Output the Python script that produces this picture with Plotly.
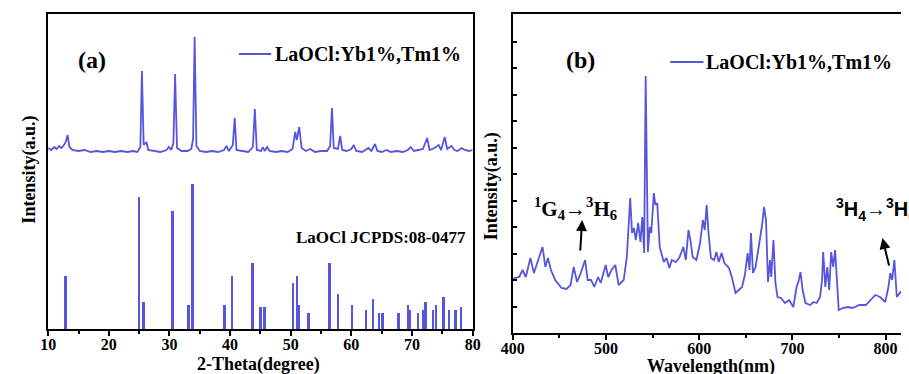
import plotly.graph_objects as go

# ---------------- data ----------------
# (a) XRD pattern of LaOCl:Yb1%,Tm1%
xrd_2theta = [10.0, 10.5, 11.0, 11.4, 11.8, 12.2, 12.6, 12.9, 13.2, 13.5, 14.0, 15.0, 16.0, 17.0, 18.0,
              19.0, 20.0, 21.0, 22.0, 23.0, 24.0, 24.7, 25.2, 25.46, 25.75, 26.2, 26.5, 27.5, 28.5, 29.5,
              29.9, 30.3, 30.65, 30.93, 31.25, 32.0, 33.0, 33.6, 33.9, 34.15, 34.45, 35.0, 36.0, 37.0,
              38.0, 39.0, 39.4, 39.8, 40.45, 40.76, 41.05, 42.0, 43.0, 43.75, 44.08, 44.4, 45.1, 45.4,
              45.7, 46.1, 46.5, 47.5, 48.5, 49.5, 50.3, 50.74, 51.0, 51.4, 51.8, 52.5, 53.2, 54.0, 55.0,
              56.0, 56.5, 56.8, 57.1, 57.8, 58.15, 58.5, 59.2, 60.0, 60.4, 60.8, 61.8, 62.8, 63.3, 63.9,
              64.3, 65.0, 65.8, 66.5, 67.5, 68.5, 69.3, 69.8, 70.3, 71.0, 71.8, 72.5, 72.9, 73.7, 74.4,
              74.8, 75.4, 75.8, 76.5, 77.0, 77.5, 78.2, 78.7, 79.4, 80.0]
xrd_intensity = [181, 179, 182, 180, 183, 181, 184, 187, 194, 182, 179, 178, 179, 177, 178,
                 177, 178, 177, 178, 177, 178, 177, 182, 258, 184, 187, 179, 178, 177, 179,
                 182, 179, 186, 255, 181, 178, 178, 180, 190, 292, 183, 178, 177, 178,
                 177, 179, 183, 178, 184, 211, 179, 178, 177, 182, 220, 179, 178, 182,
                 178, 182, 178, 177, 178, 177, 180, 197, 189, 202, 181, 178, 180, 177, 178,
                 178, 183, 221, 181, 180, 193, 179, 178, 180, 184, 178, 177, 181, 178, 185,
                 178, 177, 179, 177, 178, 177, 179, 182, 178, 179, 180, 191, 179, 181, 184,
                 179, 192, 180, 183, 179, 178, 181, 179, 178, 179]

# (a) reference pattern LaOCl JCPDS:08-0477
ref_2theta = [12.9, 25.07, 25.77, 30.55, 33.23, 33.87, 39.18, 40.42, 43.74, 45.09, 45.73, 50.45,
              51.1, 51.47, 52.97, 56.46, 57.85, 60.16, 62.47, 63.6, 64.6, 65.2, 67.83, 69.44,
              69.76, 71.05, 72.0, 72.29, 73.57, 74.0, 75.24, 76.2, 77.27, 78.19]
ref_intensity = [53, 132, 27, 118, 24, 145, 24, 53, 66, 22, 22, 46,
                 53, 24, 16, 66, 35, 24, 19, 30, 16, 16, 16, 24,
                 19, 16, 19, 27, 19, 24, 32, 19, 19, 22]

# (b) emission spectrum
wl_nm = [400, 402, 407, 410.5, 414, 419, 422.7, 427, 432, 435, 437.8, 441, 445.5, 452.4, 457.7, 462,
         465.4, 469, 473, 477.6, 480.4, 484, 487.4, 491.6, 494.4, 499.7, 502.4, 506, 510, 513.6,
         519, 522.4, 524, 526, 528, 530, 532, 534.6, 537, 539, 541, 542.6, 545, 547, 548.6, 551.4,
         553, 555, 557.7, 562, 565, 568, 570.6, 575, 579, 583, 585.7, 588.5, 590.6, 593, 597, 601,
         604, 606, 608, 610, 612.6, 616, 618.5, 621, 624, 627, 632, 635, 639, 642, 646, 649, 652,
         654, 655.6, 657.7, 660.5, 665, 667.5, 669.6, 671.7, 673.8, 676, 677.3, 679.7, 681.8, 684,
         687.8, 692, 696.5, 701, 704.5, 707, 708.7, 711, 714, 719, 722.7, 726, 729.7, 731.8, 733,
         735.3, 737.4, 739.5, 741.6, 743.7, 745.8, 748, 749.7, 754, 759.5, 764.7, 771.7, 778.7,
         784, 789, 794, 799.6, 803, 805, 807, 809.4, 812, 816, 818]
em_intensity = [53, 55, 56, 63, 56, 75, 60, 73, 86, 66, 75, 63, 53, 45, 44, 48,
                66, 51, 60, 73, 53, 53, 46, 56, 50, 68, 56, 63, 68, 48,
                53, 76, 103, 135, 100, 105, 93, 110, 91, 116, 80, 257, 81, 106, 100, 140,
                128, 130, 86, 71, 75, 65, 73, 71, 76, 86, 73, 103, 93, 76, 73, 90,
                113, 103, 128, 100, 75, 73, 81, 71, 80, 70, 65, 56, 40, 43, 46, 58, 80,
                63, 100, 60, 66, 93, 108, 126, 113, 51, 73, 56, 93, 50, 36,
                35, 30, 33, 26, 46, 53, 61, 43, 30, 28, 31, 30, 36, 53, 81,
                46, 66, 43, 81, 66, 83, 50, 23, 25, 26, 25, 28, 28,
                33, 38, 36, 31, 46, 60, 53, 73, 36, 41, 40]

xrd_ticks = [10, 20, 30, 40, 50, 60, 70, 80]
wl_ticks = [400, 500, 600, 700, 800]

# ---------------- styling ----------------
W, H = 909, 374
BLUE = "#5656dc"
SERIF = "Liberation Serif"
SANS = "Liberation Sans"


def px(x):
    return x / W


def py(y):
    return 1 - y / H


fig = go.Figure()

fig.add_trace(go.Scatter(x=xrd_2theta, y=xrd_intensity, mode="lines",
                         line=dict(color=BLUE, width=1.8), xaxis="x", yaxis="y",
                         showlegend=False))
fig.add_trace(go.Bar(x=ref_2theta, y=ref_intensity, width=0.32, marker=dict(color=BLUE, line=dict(width=0)),
                     xaxis="x", yaxis="y", showlegend=False))
fig.add_trace(go.Scatter(x=wl_nm, y=em_intensity, mode="lines",
                         line=dict(color=BLUE, width=1.8), xaxis="x2", yaxis="y2",
                         showlegend=False))

tickfont = dict(family=SERIF, size=16, color="black", weight="bold")

fig.update_layout(
    width=W, height=H,
    margin=dict(l=0, r=0, t=0, b=0),
    paper_bgcolor="white", plot_bgcolor="white",
    bargap=0,
    xaxis=dict(domain=[px(37), px(471)], range=[10, 80], tickvals=xrd_ticks,
               showline=True, linecolor="black", linewidth=2, mirror=True,
               ticks="outside", ticklen=5, tickwidth=2, tickcolor="black",
               minor=dict(dtick=5, tick0=5, ticks="outside", ticklen=3, tickwidth=2, tickcolor="black"),
               showgrid=False, zeroline=False, tickfont=tickfont, anchor="y",
               ticklabelstandoff=-5),
    yaxis=dict(domain=[py(329), py(14)], range=[0, 315],
               showline=True, linecolor="black", linewidth=2, mirror=True,
               ticks="", showticklabels=False, showgrid=False, zeroline=False, anchor="x"),
    xaxis2=dict(domain=[px(512), 1.0], range=[400, 816.5], tickvals=wl_ticks,
                showline=True, linecolor="black", linewidth=2, mirror=True,
                ticks="outside", ticklen=5, tickwidth=2, tickcolor="black",
                minor=dict(dtick=50, tick0=450, ticks="outside", ticklen=3, tickwidth=2, tickcolor="black"),
                showgrid=False, zeroline=False, tickfont=tickfont, anchor="y2",
                ticklabelstandoff=-5),
    yaxis2=dict(domain=[py(333), py(14)], range=[0, 319],
                showline=True, linecolor="black", linewidth=2, mirror=False,
                ticks="inside", ticklen=4, tickwidth=2, tickcolor="black", tick0=0, dtick=26.5,
                showticklabels=False, showgrid=False, zeroline=False, anchor="x2"),
)

shapes = [
    dict(type="line", xref="paper", yref="paper", x0=px(232), x1=px(265), y0=py(54), y1=py(54),
         line=dict(color=BLUE, width=2)),
    dict(type="line", xref="paper", yref="paper", x0=px(673), x1=px(707), y0=py(62), y1=py(62),
         line=dict(color=BLUE, width=2)),
]
fig.update_layout(shapes=shapes)


def txt(text, x, y, size, xanchor="center", family=SERIF, textangle=0):
    return dict(text=text, x=px(x), y=py(y), xref="paper", yref="paper", showarrow=False,
                xanchor=xanchor, yanchor="middle", textangle=textangle,
                font=dict(family=family, size=size, color="black", weight="bold"))


annotations = [
    txt("(a)", 82, 60, 24),
    txt("(b)", 581, 60, 24),
    txt("LaOCl:Yb1%,Tm1%", 267, 54, 20, xanchor="left"),
    txt("LaOCl:Yb1%,Tm1%", 708, 62, 20, xanchor="left"),
    txt("LaOCl JCPDS:08-0477", 377, 237, 17),
    txt("2-Theta(degree)", 252, 364, 18),
    txt("Wavelength(nm)", 715, 366, 18),
    txt("Intensity(a.u.)", 17, 170, 18, textangle=-90),
    txt("Intensity(a.u.)", 490, 186, 18, textangle=-90),
    txt("<sup>1</sup>G<sub>4</sub>\u2192<sup>3</sup>H<sub>6</sub>", 576, 208, 21),
    txt("<sup>3</sup>H<sub>4</sub>\u2192<sup>3</sup>H<sub>6</sub>", 840, 209, 20, xanchor="left", family=SANS),
    dict(text="", x=px(583), y=py(220), xref="paper", yref="paper", showarrow=True,
         ax=-2, ay=32, axref="pixel", ayref="pixel", arrowhead=2, arrowsize=1.1, arrowwidth=2,
         arrowcolor="black"),
    dict(text="", x=px(890), y=py(238), xref="paper", yref="paper", showarrow=True,
         ax=7, ay=29, axref="pixel", ayref="pixel", arrowhead=2, arrowsize=1.1, arrowwidth=2,
         arrowcolor="black"),
]
fig.update_layout(annotations=annotations)

fig.write_html("out.html")
